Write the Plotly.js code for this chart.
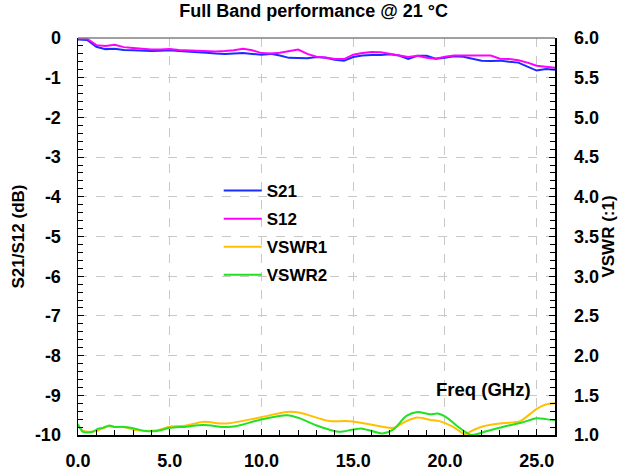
<!DOCTYPE html>
<html>
<head>
<meta charset="utf-8">
<script src="https://cdn.plot.ly/plotly-3.0.1.min.js"></script>
<style>html,body{margin:0;padding:0;background:#fff;}#chart{width:621px;height:470px;}</style>
</head>
<body>
<div id="chart"></div>
<script>
const freqS = [0,0.5,1,1.5,2,2.5,3,3.5,4,4.5,5,5.5,6,6.5,7,7.5,8,8.5,9,9.5,10,10.5,11,11.5,12,12.5,13,13.5,14,14.5,15,15.5,16,16.5,17,17.5,18,18.5,19,19.5,20,20.5,21,21.5,22,22.5,23,23.5,24,24.5,25,25.5,26];
const s21 = [-0.04,-0.05,-0.22,-0.28,-0.27,-0.30,-0.31,-0.32,-0.33,-0.32,-0.31,-0.33,-0.34,-0.35,-0.37,-0.39,-0.40,-0.39,-0.38,-0.40,-0.42,-0.40,-0.44,-0.50,-0.50,-0.51,-0.48,-0.50,-0.55,-0.57,-0.48,-0.44,-0.43,-0.43,-0.41,-0.44,-0.53,-0.45,-0.45,-0.52,-0.50,-0.46,-0.47,-0.52,-0.57,-0.58,-0.57,-0.60,-0.62,-0.72,-0.82,-0.78,-0.80];
const s12 = [-0.01,-0.02,-0.18,-0.20,-0.17,-0.23,-0.25,-0.27,-0.29,-0.29,-0.28,-0.30,-0.31,-0.32,-0.33,-0.34,-0.33,-0.31,-0.27,-0.31,-0.38,-0.39,-0.37,-0.33,-0.29,-0.40,-0.47,-0.49,-0.53,-0.53,-0.42,-0.38,-0.35,-0.36,-0.40,-0.45,-0.48,-0.45,-0.50,-0.52,-0.47,-0.44,-0.44,-0.44,-0.43,-0.44,-0.52,-0.53,-0.56,-0.62,-0.70,-0.73,-0.75];
const freqV1 = [0,0.3,1.0,1.3,1.7,2.0,2.5,3.2,4.3,5.0,5.9,6.8,8.1,9.9,11.4,12.1,13.7,14.6,15.4,16.6,17.2,17.9,18.5,19.2,19.7,20.4,21.1,21.35,22.1,23.2,24.1,25.0,25.5,26.0];
const vswr1 = [1.12,1.05,1.05,1.08,1.11,1.10,1.10,1.06,1.06,1.105,1.12,1.165,1.145,1.22,1.29,1.28,1.175,1.175,1.155,1.105,1.09,1.175,1.22,1.19,1.175,1.11,1.01,1.04,1.11,1.15,1.175,1.33,1.385,1.40];
const freqV2 = [0,0.27,0.8,1.1,1.35,1.7,2.0,2.45,3.0,3.7,4.3,5.0,5.9,6.8,8.1,8.6,9.9,11.4,12.1,13.0,14.2,15.0,15.5,16.6,17.2,17.9,18.5,19.2,19.6,20.1,20.8,21.45,22.3,23.2,24.1,25.0,25.5,26.0];
const vswr2 = [1.135,1.04,1.04,1.08,1.09,1.12,1.10,1.105,1.085,1.05,1.05,1.09,1.105,1.125,1.10,1.11,1.19,1.25,1.21,1.12,1.04,1.07,1.08,1.02,1.07,1.24,1.29,1.26,1.27,1.22,1.09,1.0,1.05,1.105,1.15,1.21,1.20,1.185];
const xTicks = [0,5,10,15,20,25];
const yTicks = [0,-1,-2,-3,-4,-5,-6,-7,-8,-9,-10];
const y2Ticks = [6.0,5.5,5.0,4.5,4.0,3.5,3.0,2.5,2.0,1.5,1.0];

const F = 'Liberation Sans, Arial, sans-serif';
const traces = [
  {x: freqS, y: s21, name: 'S21', legendgroup: 'a', mode: 'lines', line: {color: '#1a2cff', width: 2}},
  {x: freqS, y: s12, name: 'S12', legendgroup: 'b', mode: 'lines', line: {color: '#ff00ff', width: 2}},
  {x: freqV1, y: vswr1, name: 'VSWR1', legendgroup: 'c', mode: 'lines', yaxis: 'y2', line: {color: '#ffc000', width: 2, shape: 'spline', smoothing: 0.8}},
  {x: freqV2, y: vswr2, name: 'VSWR2', legendgroup: 'd', mode: 'lines', yaxis: 'y2', line: {color: '#22e022', width: 2, shape: 'spline', smoothing: 0.8}}
];
const tickf = {family: F, size: 18, color: '#000', weight: 'bold'};
const layout = {
  width: 621, height: 470,
  margin: {l: 78, r: 66, t: 38, b: 35},
  paper_bgcolor: '#fff', plot_bgcolor: '#fff',
  font: {family: F, color: '#000'},
  title: {text: 'Full Band performance @ 21 °C', font: {family: F, size: 18, weight: 'bold', color: '#000'}, x: 0.505, xanchor: 'center', y: 0.99, yanchor: 'top'},
  showlegend: true,
  legend: {x: 0.295, y: 0.66, xanchor: 'left', yanchor: 'top', bgcolor: 'rgba(0,0,0,0)', itemwidth: 38,
    font: {family: F, size: 17, weight: 'bold', color: '#000'}, tracegroupgap: 3},
  xaxis: {range: [0, 26], tickvals: xTicks, ticktext: xTicks.map(v => v.toFixed(1)), tickfont: tickf,
    showline: true, linecolor: '#000', linewidth: 1.5, ticks: 'inside', ticklen: 6, tickcolor: '#000',
    minor: {dtick: 1, ticks: 'inside', ticklen: 5, tickcolor: '#000', showgrid: false},
    showgrid: true, gridcolor: '#c8c8c8', griddash: 'dash', gridwidth: 1, zeroline: false, ticklabelstandoff: 9, fixedrange: true},
  yaxis: {range: [-10, 0], tickvals: yTicks, ticktext: yTicks.map(String), tickfont: tickf,
    title: {text: 'S21/S12 (dB)', font: {family: F, size: 17, weight: 'bold', color: '#000'}, standoff: 6},
    showline: true, linecolor: '#000', linewidth: 1.5, ticks: 'inside', ticklen: 6, tickcolor: '#000',
    minor: {dtick: 0.2, ticks: 'inside', ticklen: 5, tickcolor: '#000', showgrid: false},
    showgrid: true, gridcolor: '#c8c8c8', griddash: 'dash', gridwidth: 1, zeroline: false, ticklabelstandoff: 12, fixedrange: true},
  yaxis2: {range: [1, 6], overlaying: 'y', side: 'right', tickvals: y2Ticks, ticktext: y2Ticks.map(v => v.toFixed(1)), tickfont: tickf,
    title: {text: 'VSWR (:1)', font: {family: F, size: 17, weight: 'bold', color: '#000'}, standoff: 4},
    showline: true, linecolor: '#000', linewidth: 1.5, ticks: 'inside', ticklen: 6, tickcolor: '#000',
    minor: {dtick: 0.1, ticks: 'inside', ticklen: 5, tickcolor: '#000', showgrid: false},
    showgrid: false, zeroline: false, ticklabelstandoff: 14, fixedrange: true},
  shapes: [{type: 'line', xref: 'paper', yref: 'paper', x0: 0, x1: 1, y0: 1, y1: 1, line: {color: '#808080', width: 1.5}}],
  annotations: [{text: 'Freq (GHz)', x: 22.1, y: -8.85, xref: 'x', yref: 'y', showarrow: false, font: {family: F, size: 18.5, weight: 'bold', color: '#000'}}]
};
Plotly.newPlot('chart', traces, layout, {displayModeBar: false, staticPlot: true});
</script>
</body>
</html>
